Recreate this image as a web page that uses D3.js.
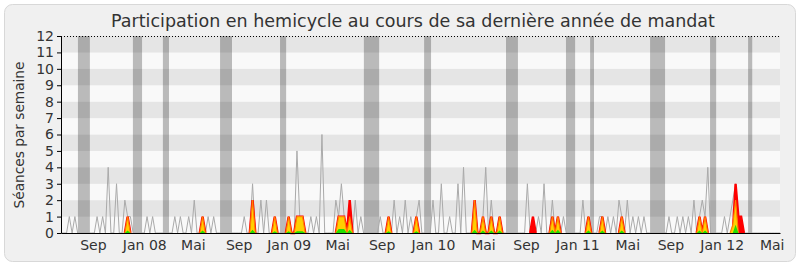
<!DOCTYPE html>
<html>
<head>
<meta charset="utf-8">
<script src="https://cdn.jsdelivr.net/npm/d3@7"></script>
<style>
  body { margin: 0; background: #fff; }
  svg { display: block; font-family: "DejaVu Sans", sans-serif; }
</style>
</head>
<body>
<svg width="800" height="267"></svg>
<script>
// weekly data, week 0 = beginning of june 2007
var nWeeks = 260

// séances en hémicycle par semaine [semaine, valeur] (0 ailleurs)
var seances = [[3,1],[5,1],[13,1],[15,1],[17,4],[20,3],[23,2],[24,1],[25,1],
  [31,1],[33,1],
  [41,1],[43,1],[46,1],[48,2],[51,1],[53,1],[55,1],
  [66,1],[69,3],[72,2],[74,2],[77,1],
  [82,1],[85,5],[86,1],[87,1],[90,1],[92,1],[94,6],[99,2],[100,1],[101,3],[102,1],[104,2],[106,2],[108,1],
  [115,1],[118,1],[120,2],[122,1],[124,2],[126,1],[128,1],[129,2],
  [134,2],[137,3],[140,1],[143,3],[145,4],[149,2],[152,1],[153,4],[155,2],[158,1],
  [168,3],[170,1],[172,1],[174,3],[177,2],[179,1],[181,1],
  [188,2],[190,1],[194,1],[195,1],[197,1],[199,1],[201,2],[202,1],[204,2],[206,1],[208,1],[210,1],
  [219,1],[222,1],[224,1],[226,1],[228,2],[230,1],[231,2],[232,1],[233,4],
  [239,1],[241,1],[242,2],[243,3],[244,1],[245,1]]

// présences (rouge)
var presences = [[24,1],[51,1],[69,2],[77,1],[82,1],[85,1],[86,1],[87,1],[100,1],[101,1],[102,1],[104,2],
  [118,1],[128,1],[149,2],[152,1],[155,1],[158,1],[170,1],[177,1],[179,1],[190,1],[195,1],[202,1],
  [230,1],[232,1],[243,3],[244,1],[245,1]]

// participations (jaune)
var participations = [[24,1],[51,1],[69,2],[77,1],[82,1],[85,1],[86,1],[87,1],[100,1],[101,1],[102,1],[104,1],
  [118,1],[128,1],[149,2],[152,1],[155,1],[158,1],[177,1],[179,1],[190,1],[195,1],[202,1],
  [230,1],[232,1],[242,0.5],[243,2]]

// mots (vert)
var mots = [[24,0.15],[51,0.15],[69,0.2],[77,0.1],[82,0.1],[85,0.1],[86,0.1],[87,0.1],[100,0.25],[101,0.25],[102,0.25],
  [104,0.2],[118,0.1],[128,0.1],[149,0.2],[152,0.15],[155,0.15],[158,0.15],[177,0.2],[179,0.2],[190,0.15],
  [195,0.15],[202,0.15],[230,0.15],[232,0.15],[243,0.5]]

// vacances parlementaires [début, fin] en semaines
var vacances = [[6.1,10.4],[25.9,29.2],[36.7,38.9],[57.3,61.6],[78.9,81.1],[109.1,114.6],[130.8,133.3],
  [160.3,164.6],[181.9,185.2],[190.6,192],[212.2,217.6],[233.8,236],[247.5,249]]

var tickWeeks = [11.5, 30, 47.5, 64, 82, 99.5, 115.5, 134, 152, 167.5, 186, 204, 219.5, 238, 256]
var tickLabels = ["Sep","Jan 08","Mai","Sep","Jan 09","Mai","Sep","Jan 10","Mai","Sep","Jan 11","Mai","Sep","Jan 12","Mai"]
var yTicks = [0,1,2,3,4,5,6,7,8,9,10,11,12]


function dense(pairs){
  var a = new Array(nWeeks).fill(0)
  pairs.forEach(function(p){ a[p[0]] = p[1] })
  return a
}

var svg = d3.select("svg")

var x = d3.scaleLinear().domain([0, nWeeks-1]).range([61, 780])
var y = d3.scaleLinear().domain([0, 12]).range([233, 36])

// fond
svg.append("rect")
  .attr("x", 4.5).attr("y", 4.5).attr("width", 791).attr("height", 257)
  .attr("rx", 8)
  .attr("fill", "#f0f0f0").attr("stroke", "#d8d8d8")

// bandes horizontales
svg.append("g").selectAll("rect")
  .data(d3.range(12))
  .enter()
  .append("rect")
    .attr("x", x(0))
    .attr("width", x(nWeeks-1) - x(0))
    .attr("y", function(d){ return y(d+1) })
    .attr("height", function(d){ return y(d) - y(d+1) })
    .attr("fill", function(d){ return d % 2 ? "#e5e5e5" : "#f9f9f9" })

// vacances
svg.append("g").selectAll("rect")
  .data(vacances)
  .enter()
  .append("rect")
    .attr("x", function(d){ return x(d[0]) })
    .attr("width", function(d){ return x(d[1]) - x(d[0]) })
    .attr("y", y(12))
    .attr("height", y(0) - y(12))
    .attr("fill", "#000")
    .attr("fill-opacity", 0.25)

svg.append("line")
  .attr("x1", x(0)).attr("x2", x(nWeeks-1))
  .attr("y1", y(12) + 0.5).attr("y2", y(12) + 0.5)
  .attr("stroke", "#000").attr("stroke-dasharray", "1,2")

// séances (ligne grise)
var grey = dense(seances)
svg.append("path")
  .datum(grey)
  .attr("fill", "none")
  .attr("stroke", "#aaa")
  .attr("stroke-width", 1)
  .attr("d", d3.line()
    .x(function(d, i){ return x(i) })
    .y(function(d){ return y(d) }))

function drawSeries(pairs, fill, stroke, sw){
  var vals = dense(pairs)
  var area = d3.area()
    .x(function(d, i){ return x(i) })
    .y0(y(0))
    .y1(function(d){ return y(d) })
  svg.append("path")
    .datum(vals)
    .attr("fill", fill)
    .attr("d", area)
  if (stroke) {
    var line = d3.line()
      .defined(function(d, i){ return d > 0 || vals[i-1] > 0 || vals[i+1] > 0 })
      .x(function(d, i){ return x(i) })
      .y(function(d){ return y(d) })
    svg.append("path")
      .datum(vals)
      .attr("fill", "none")
      .attr("stroke", stroke)
      .attr("stroke-width", sw)
      .attr("stroke-linejoin", "miter")
      .attr("d", line)
  }
}

drawSeries(presences, "#ff0000", "#ff0000", 2.4)
drawSeries(participations, "#ffd000", "#ff8000", 1.1)
drawSeries(mots, "#22e000", null, 0)

// axes
var yAxis = svg.append("g")
  .attr("transform", "translate(61,0)")
  .call(d3.axisLeft(y).tickValues(yTicks).tickSize(4).tickPadding(3).tickSizeOuter(0))
yAxis.selectAll("text").attr("font-size", 14).attr("fill", "#333").attr("font-family", "DejaVu Sans")
yAxis.select(".domain").attr("stroke", "#000")

var xAxis = svg.append("g")
  .attr("transform", "translate(0,233)")
  .call(d3.axisBottom(x).tickValues(tickWeeks)
    .tickFormat(function(d, i){ return tickLabels[i] })
    .tickSize(0).tickPadding(7).tickSizeOuter(0))
xAxis.selectAll("text").attr("font-size", 14).attr("fill", "#333").attr("font-family", "DejaVu Sans")
xAxis.select(".domain").attr("stroke", "#000")

// titres
svg.append("text")
  .attr("x", 413).attr("y", 27)
  .attr("text-anchor", "middle")
  .attr("font-size", 17.5)
  .attr("fill", "#333")
  .text("Participation en hemicycle au cours de sa dernière année de mandat")

svg.append("text")
  .attr("transform", "translate(24,135) rotate(-90)")
  .attr("text-anchor", "middle")
  .attr("font-size", 13.7)
  .attr("fill", "#333")
  .text("Séances par semaine")
</script>
</body>
</html>
